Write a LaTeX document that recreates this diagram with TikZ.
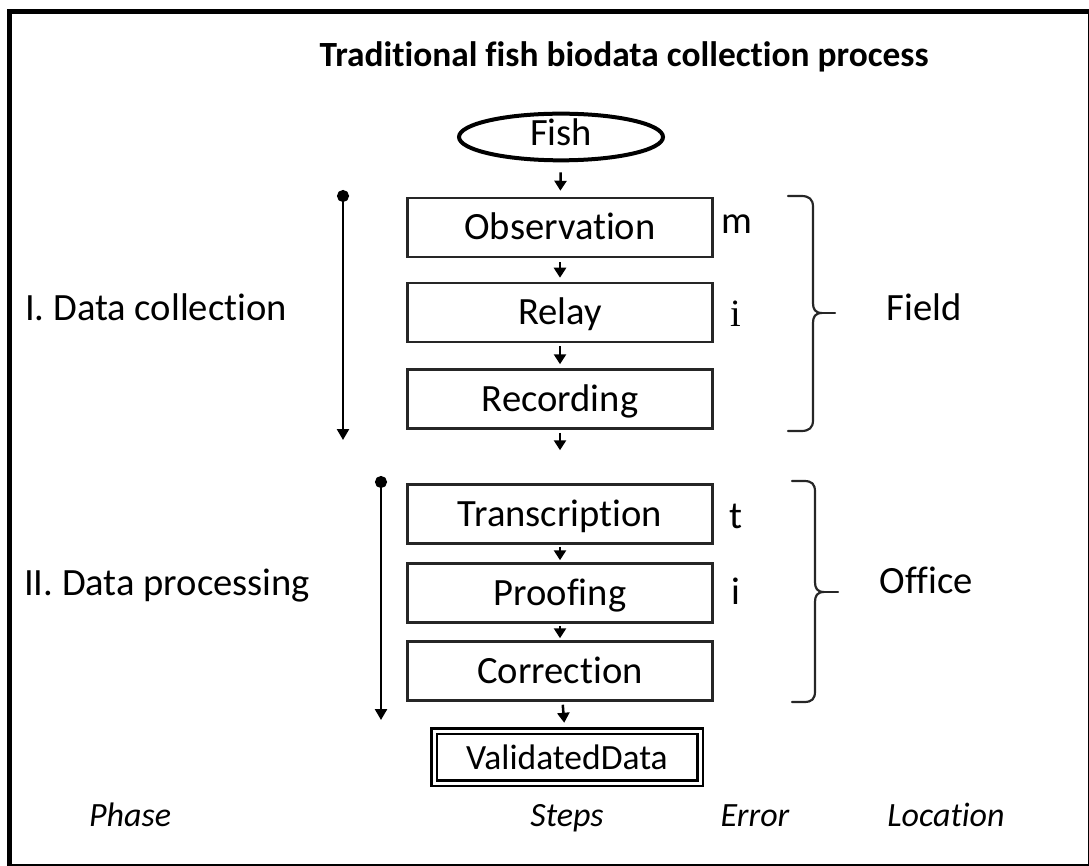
\documentclass[tikz,border=0pt]{standalone}
\usepackage{fontspec}
\setmainfont{Carlito}[RawFeature={-liga;-clig}]
\newfontfamily\fbserif{Liberation Serif}
\usepackage{xcolor}
\usepackage{tikz}
\usetikzlibrary{arrows.meta,positioning,shapes.geometric}
\definecolor{fbInk}{HTML}{000000}
\definecolor{fbLine}{HTML}{262626}
\tikzset{
  fb diagram/.style={text=fbInk, line join=miter},
  fb frame/.style={draw=fbInk, line width=4.5pt},
  fb title/.style={font=\fontsize{35.4}{42}\selectfont\bfseries, inner sep=0pt},
  fb text/.style={font=\fontsize{38.6}{46}\selectfont, inner sep=0pt,
    text height=25pt, text depth=0pt},
  fb box/.style={fb text, draw=fbLine, line width=2.5pt,
    minimum width=305pt, minimum height=59pt},
  fb start/.style={fb text, text depth=8pt, ellipse, draw=fbInk, line width=4pt,
    minimum width=204pt, minimum height=45pt},
  fb result/.style={fb text, font=\fontsize{35.5}{42}\selectfont,
    draw=fbInk, double, double distance=3pt, line width=2.5pt,
    minimum width=266pt, minimum height=52pt},
  fb error/.style={font=\fontsize{38.6}{46}\selectfont, inner sep=0pt},
  fb key/.style={font=\fontsize{34}{40}\selectfont\itshape, inner sep=0pt,
    text height=22pt, text depth=0pt},
  fb step/.style={-{Triangle[length=10pt,width=12pt]}, draw=fbInk, line width=2.5pt},
  fb phase/.style={{Circle[length=12pt]}-{Triangle[length=11pt,width=12pt]},
    draw=fbInk, line width=2.5pt},
  fb brace/.style={draw=fbLine, line width=2.2pt, line cap=round, line join=round}
}

\begin{document}
\begin{tikzpicture}[fb diagram,x=1pt,y=-1pt]
\useasboundingbox (0,0) rectangle (1089,866);
\clip (0,0) rectangle (1089,866);
\draw[fb frame] (9.5,11.5) rectangle (1090.5,866.5);

\node[fb title] (title) at (624,57) {Traditional fish biodata collection process};

% steps
\node[fb start] (fish) at (561,137) {Fish};
\node[fb box] (obs) at (560,227.5) {Observation};
\node[fb box] (relay) at (560,312.5) {Relay};
\node[fb box] (rec) at (560,399) {Recording};
\node[fb box] (trans) at (560,514) {Transcription};
\node[fb box] (proof) at (560,593) {Proofing};
\node[fb box] (corr) at (560,671) {Correction};
\node[fb result] (valid) at (567,757) {ValidatedData};

\draw[fb step, shorten <=10pt, shorten >=6pt] (fish) -- (obs);
\draw[fb step, shorten <=4pt, shorten >=4pt] (obs) -- (relay);
\draw[fb step, shorten <=3pt, shorten >=4pt] (relay) -- (rec);
\draw[fb step, shorten <=3pt, shorten >=33pt] (rec) -- (trans);
\draw[fb step, shorten <=2pt, shorten >=2pt] (trans) -- (proof);
\draw[fb step, shorten <=2pt, shorten >=2pt] (proof) -- (corr);
\draw[fb step, shorten <=3pt, shorten >=7pt] (corr) -- (valid);

% phases
\node[fb text, anchor=west] (collect) at (25,308) {I. Data collection};
\node[fb text, anchor=west] (process) at (24,583) {II. Data processing};
\coordinate (collect top) at (343,190);
\coordinate (collect end) at (343,440);
\coordinate (process top) at (381,476);
\coordinate (process end) at (381,720);
\draw[fb phase] (collect top) -- (collect end);
\draw[fb phase] (process top) -- (process end);

% errors
\node[fb error] (err m) at (737,224) {m};
\node[fb error] (err i) at (736,314) {\fbserif i};
\node[fb error] (err t) at (736,516) {t};
\node[fb error] (err p) at (736,591) {i};

% locations
\draw[fb brace] (788,196) -- (801,196) .. controls (809,196) and (813,199) .. (813,207)
  -- (813,303) .. controls (813,309) and (815,313) .. (822,313)
  .. controls (815,313) and (813,317) .. (813,323)
  -- (813,420) .. controls (813,428) and (809,431) .. (801,431) -- (788,431);
\draw[fb brace] (822,313) -- (835,313);
\draw[fb brace] (792,481) -- (804,481) .. controls (812,481) and (815,484) .. (815,492)
  -- (815,582) .. controls (815,588) and (817,592) .. (824,592)
  .. controls (817,592) and (815,596) .. (815,602)
  -- (815,691) .. controls (815,699) and (812,702) .. (804,702) -- (792,702);
\draw[fb brace] (824,592) -- (838,592);
\node[fb text] (field) at (924,308) {Field};
\node[fb text] (office) at (926,581) {Office};

% column keys
\node[fb key] (key phase) at (130,815) {Phase};
\node[fb key] (key steps) at (567,815) {Steps};
\node[fb key] (key error) at (755,815) {Error};
\node[fb key] (key loc) at (946,815) {Location};
\end{tikzpicture}
\end{document}
